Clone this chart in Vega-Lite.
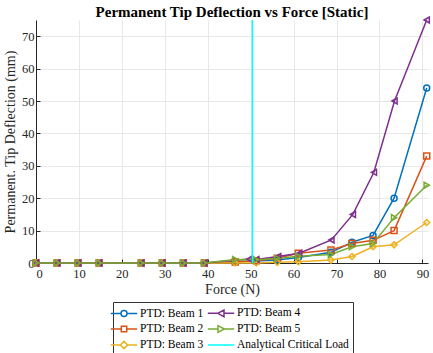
{
  "$schema": "https://vega.github.io/schema/vega-lite/v6.json",
  "width": 392,
  "height": 243,
  "autosize": "none",
  "padding": {"left": 36, "top": 20, "right": 5, "bottom": 90},
  "background": "white",
  "title": {
    "text": "Permanent Tip Deflection vs Force [Static]",
    "font": "Liberation Serif",
    "fontSize": 15,
    "fontWeight": "bold",
    "color": "#000000",
    "anchor": "middle",
    "offset": -6
  },
  "config": {
    "view": {"stroke": null},
    "axis": {
      "labelFont": "Liberation Serif",
      "labelFontSize": 12.5,
      "labelColor": "#262626",
      "labelOverlap": false,
      "titleFont": "Liberation Serif",
      "titleFontSize": 14,
      "titleFontWeight": "normal",
      "titleColor": "#262626",
      "domainColor": "#262626",
      "tickColor": "#262626",
      "gridColor": "#e8e8e8",
      "gridWidth": 1,
      "grid": true,
      "tickSize": -4
    },
    "axisX": {
      "values": [0, 10, 20, 30, 40, 50, 60, 70, 80, 90],
      "labelPadding": 8,
      "titlePadding": 3
    },
    "axisY": {
      "values": [0, 10, 20, 30, 40, 50, 60, 70],
      "labelPadding": 6,
      "titlePadding": 4
    }
  },
  "datasets": {
    "beams": [
      {"force": 0, "defl": 0, "series": "PTD: Beam 1"},
      {"force": 4.9, "defl": 0, "series": "PTD: Beam 1"},
      {"force": 9.8, "defl": 0, "series": "PTD: Beam 1"},
      {"force": 14.7, "defl": 0, "series": "PTD: Beam 1"},
      {"force": 24.5, "defl": 0, "series": "PTD: Beam 1"},
      {"force": 29.4, "defl": 0, "series": "PTD: Beam 1"},
      {"force": 34.3, "defl": 0, "series": "PTD: Beam 1"},
      {"force": 39.2, "defl": 0, "series": "PTD: Beam 1"},
      {"force": 46.4, "defl": 0.4, "series": "PTD: Beam 1"},
      {"force": 51.3, "defl": 0.6, "series": "PTD: Beam 1"},
      {"force": 56.2, "defl": 0.9, "series": "PTD: Beam 1"},
      {"force": 61.1, "defl": 1.7, "series": "PTD: Beam 1"},
      {"force": 68.7, "defl": 3.3, "series": "PTD: Beam 1"},
      {"force": 73.6, "defl": 6.4, "series": "PTD: Beam 1"},
      {"force": 78.5, "defl": 8.5, "series": "PTD: Beam 1"},
      {"force": 83.4, "defl": 20, "series": "PTD: Beam 1"},
      {"force": 91.0, "defl": 54, "series": "PTD: Beam 1"},

      {"force": 0, "defl": 0, "series": "PTD: Beam 2"},
      {"force": 4.9, "defl": 0, "series": "PTD: Beam 2"},
      {"force": 9.8, "defl": 0, "series": "PTD: Beam 2"},
      {"force": 14.7, "defl": 0, "series": "PTD: Beam 2"},
      {"force": 24.5, "defl": 0, "series": "PTD: Beam 2"},
      {"force": 29.4, "defl": 0, "series": "PTD: Beam 2"},
      {"force": 34.3, "defl": 0, "series": "PTD: Beam 2"},
      {"force": 39.2, "defl": 0, "series": "PTD: Beam 2"},
      {"force": 46.4, "defl": 0.3, "series": "PTD: Beam 2"},
      {"force": 51.3, "defl": 0.7, "series": "PTD: Beam 2"},
      {"force": 56.2, "defl": 1.5, "series": "PTD: Beam 2"},
      {"force": 61.1, "defl": 3.0, "series": "PTD: Beam 2"},
      {"force": 68.7, "defl": 4.0, "series": "PTD: Beam 2"},
      {"force": 73.6, "defl": 6.0, "series": "PTD: Beam 2"},
      {"force": 78.5, "defl": 7.0, "series": "PTD: Beam 2"},
      {"force": 83.4, "defl": 10, "series": "PTD: Beam 2"},
      {"force": 91.0, "defl": 33, "series": "PTD: Beam 2"},

      {"force": 0, "defl": 0, "series": "PTD: Beam 3"},
      {"force": 4.9, "defl": 0, "series": "PTD: Beam 3"},
      {"force": 9.8, "defl": 0, "series": "PTD: Beam 3"},
      {"force": 14.7, "defl": 0, "series": "PTD: Beam 3"},
      {"force": 24.5, "defl": 0, "series": "PTD: Beam 3"},
      {"force": 29.4, "defl": 0, "series": "PTD: Beam 3"},
      {"force": 34.3, "defl": 0, "series": "PTD: Beam 3"},
      {"force": 39.2, "defl": 0, "series": "PTD: Beam 3"},
      {"force": 46.4, "defl": 0, "series": "PTD: Beam 3"},
      {"force": 51.3, "defl": 0, "series": "PTD: Beam 3"},
      {"force": 56.2, "defl": 0.2, "series": "PTD: Beam 3"},
      {"force": 61.1, "defl": 0.4, "series": "PTD: Beam 3"},
      {"force": 68.7, "defl": 0.9, "series": "PTD: Beam 3"},
      {"force": 73.6, "defl": 2.0, "series": "PTD: Beam 3"},
      {"force": 78.5, "defl": 5.0, "series": "PTD: Beam 3"},
      {"force": 83.4, "defl": 5.6, "series": "PTD: Beam 3"},
      {"force": 91.0, "defl": 12.5, "series": "PTD: Beam 3"},

      {"force": 0, "defl": 0, "series": "PTD: Beam 4"},
      {"force": 4.9, "defl": 0, "series": "PTD: Beam 4"},
      {"force": 9.8, "defl": 0, "series": "PTD: Beam 4"},
      {"force": 14.7, "defl": 0, "series": "PTD: Beam 4"},
      {"force": 24.5, "defl": 0, "series": "PTD: Beam 4"},
      {"force": 29.4, "defl": 0, "series": "PTD: Beam 4"},
      {"force": 34.3, "defl": 0, "series": "PTD: Beam 4"},
      {"force": 39.2, "defl": 0, "series": "PTD: Beam 4"},
      {"force": 49.7, "defl": 1.2, "series": "PTD: Beam 4"},
      {"force": 51.3, "defl": 1.1, "series": "PTD: Beam 4"},
      {"force": 56.4, "defl": 2.0, "series": "PTD: Beam 4"},
      {"force": 61.3, "defl": 3.0, "series": "PTD: Beam 4"},
      {"force": 68.8, "defl": 7.1, "series": "PTD: Beam 4"},
      {"force": 73.8, "defl": 15, "series": "PTD: Beam 4"},
      {"force": 78.7, "defl": 28, "series": "PTD: Beam 4"},
      {"force": 83.5, "defl": 50, "series": "PTD: Beam 4"},
      {"force": 91.0, "defl": 75, "series": "PTD: Beam 4"},

      {"force": 0, "defl": 0, "series": "PTD: Beam 5"},
      {"force": 4.9, "defl": 0, "series": "PTD: Beam 5"},
      {"force": 9.8, "defl": 0, "series": "PTD: Beam 5"},
      {"force": 14.7, "defl": 0, "series": "PTD: Beam 5"},
      {"force": 24.5, "defl": 0, "series": "PTD: Beam 5"},
      {"force": 29.4, "defl": 0, "series": "PTD: Beam 5"},
      {"force": 34.3, "defl": 0, "series": "PTD: Beam 5"},
      {"force": 39.2, "defl": 0, "series": "PTD: Beam 5"},
      {"force": 46.4, "defl": 1.1, "series": "PTD: Beam 5"},
      {"force": 51.3, "defl": 1.0, "series": "PTD: Beam 5"},
      {"force": 56.2, "defl": 1.4, "series": "PTD: Beam 5"},
      {"force": 61.1, "defl": 2.1, "series": "PTD: Beam 5"},
      {"force": 68.7, "defl": 2.6, "series": "PTD: Beam 5"},
      {"force": 73.6, "defl": 5.0, "series": "PTD: Beam 5"},
      {"force": 78.5, "defl": 6.0, "series": "PTD: Beam 5"},
      {"force": 83.4, "defl": 14, "series": "PTD: Beam 5"},
      {"force": 91.0, "defl": 24, "series": "PTD: Beam 5"}
    ],
    "critical": [
      {"force": 50.4, "series": "Analytical Critical Load"}
    ]
  },
  "layer": [
    {
      "data": {"name": "beams"},
      "mark": {"type": "line", "strokeWidth": 1.5},
      "encoding": {
        "x": {
          "field": "force", "type": "quantitative",
          "title": "Force (N)",
          "scale": {"domain": [0, 91.3], "nice": false, "zero": false}
        },
        "y": {
          "field": "defl", "type": "quantitative",
          "title": "Permanent. Tip Deflection (mm)",
          "scale": {"domain": [0, 75], "nice": false}
        },
        "color": {
          "field": "series", "type": "nominal",
          "scale": {
            "domain": ["PTD: Beam 1", "PTD: Beam 2", "PTD: Beam 3", "PTD: Beam 4", "PTD: Beam 5", "Analytical Critical Load"],
            "range": ["#0072BD", "#D95319", "#EDB120", "#7E2F8E", "#77AC30", "#00FFFF"]
          },
          "legend": {
            "title": null,
            "orient": "none",
            "legendX": 77,
            "legendY": 282,
            "columns": 2,
            "columnPadding": 0,
            "rowPadding": 2,
            "symbolSize": 144,
            "symbolStrokeWidth": 1.5,
            "symbolType": "stroke",
            "labelFont": "Liberation Serif",
            "labelFontSize": 11.5,
            "labelColor": "#000000",
            "labelOffset": 9,
            "padding": 4,
            "strokeColor": "#333333",
            "fillColor": "white",
            "labelLimit": 200,
            "encode": {
              "symbols": {
                "update": {
                  "shape": {
                    "signal": "datum.value === 'PTD: Beam 1' ? 'M-2.2,0H-0.5M0.5,0H2.2M0.5,0A0.5,0.5,0,1,1,-0.5,0A0.5,0.5,0,1,1,0.5,0' : datum.value === 'PTD: Beam 2' ? 'M-2.2,0H-0.45M0.45,0H2.2M-0.45,-0.45H0.45V0.45H-0.45Z' : datum.value === 'PTD: Beam 3' ? 'M-2.2,0H-0.6M0.6,0H2.2M-0.6,0L0,-0.6L0.6,0L0,0.6Z' : datum.value === 'PTD: Beam 4' ? 'M-2.2,0H-0.55M0.5,0H2.2M-0.55,0L0.5,-0.55L0.5,0.55Z' : datum.value === 'PTD: Beam 5' ? 'M-2.2,0H-0.5M0.55,0H2.2M0.55,0L-0.5,-0.55L-0.5,0.55Z' : 'M-2.2,0H2.2'"
                  }
                }
              }
            }
          }
        }
      }
    },
    {
      "data": {"name": "beams"},
      "mark": {"type": "point", "filled": false, "strokeWidth": 1.5, "size": 36, "opacity": 1},
      "encoding": {
        "x": {"field": "force", "type": "quantitative", "title": "Force (N)"},
        "y": {"field": "defl", "type": "quantitative", "title": "Permanent. Tip Deflection (mm)"},
        "color": {"field": "series", "type": "nominal"},
        "shape": {
          "field": "series", "type": "nominal",
          "scale": {
            "domain": ["PTD: Beam 1", "PTD: Beam 2", "PTD: Beam 3", "PTD: Beam 4", "PTD: Beam 5"],
            "range": ["circle", "square", "diamond", "triangle-left", "triangle-right"]
          },
          "legend": null
        }
      }
    },
    {
      "data": {"name": "critical"},
      "mark": {"type": "rule", "strokeWidth": 1.5},
      "encoding": {
        "x": {"field": "force", "type": "quantitative", "title": "Force (N)"},
        "color": {"field": "series", "type": "nominal"}
      }
    }
  ]
}
